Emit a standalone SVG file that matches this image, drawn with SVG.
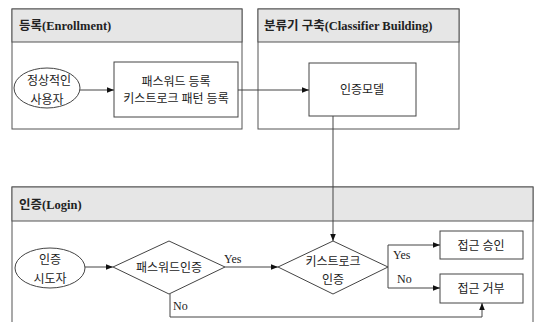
<svg xmlns="http://www.w3.org/2000/svg" width="536" height="322" viewBox="0 0 536 322">
<defs>
<style>
.panel{fill:#fff;stroke:#555;stroke-width:1}
.hdr{fill:#e6e6e6;stroke:#555;stroke-width:1}
.node{fill:#fff;stroke:#444;stroke-width:1}
.ln{fill:none;stroke:#444;stroke-width:1}
text{font-family:"Liberation Serif","Noto Sans CJK KR",serif;font-size:12px;fill:#222}
.h{font-weight:bold;font-size:12.5px}
.c{text-anchor:middle}
</style>
<marker id="ah" viewBox="0 0 10 10" refX="10" refY="5" markerWidth="7" markerHeight="7" orient="auto">
<path d="M0,1 L10,5 L0,9 z" fill="#111"/>
</marker>
</defs>
<g id="panel-enrollment">
<rect class="panel" x="12" y="9" width="230" height="120"/>
<rect class="hdr" x="12" y="9" width="230" height="33"/>
<text class="h" x="19" y="30">등록(Enrollment)</text>
</g>
<g id="panel-classifier">
<rect class="panel" x="258" y="9" width="201" height="120"/>
<rect class="hdr" x="258" y="9" width="201" height="33"/>
<text class="h" x="264" y="30">분류기 구축(Classifier Building)</text>
</g>
<g id="panel-login">
<rect class="panel" x="12" y="187" width="521" height="145"/>
<rect class="hdr" x="12" y="187" width="521" height="34"/>
<text class="h" x="19" y="209">인증(Login)</text>
</g>
<g id="user">
<ellipse class="node" cx="47" cy="88" rx="33" ry="20"/>
<text class="c" x="49" y="85">정상적인</text>
<text class="c" x="47" y="104">사용자</text>
</g>
<g id="register">
<rect class="node" x="114" y="62" width="124" height="55"/>
<text class="c" x="176" y="86">패스워드 등록</text>
<text class="c" x="176" y="103">키스트로크 패턴 등록</text>
</g>
<g id="model">
<rect class="node" x="309" y="63" width="107" height="53"/>
<text class="c" x="362" y="94">인증모델</text>
</g>
<g id="attempter">
<ellipse class="node" cx="50" cy="268" rx="35" ry="20"/>
<text class="c" x="50" y="264">인증</text>
<text class="c" x="50" y="283">시도자</text>
</g>
<g id="pw-auth">
<polygon class="node" points="113,267 169,241 225,267 169,294"/>
<text class="c" x="169" y="272">패스워드인증</text>
</g>
<g id="ks-auth">
<polygon class="node" points="278,267 333,241 388,267 333,294"/>
<text class="c" x="333" y="266">키스트로크</text>
<text class="c" x="333" y="284">인증</text>
</g>
<g id="grant">
<rect class="node" x="440" y="231" width="83" height="28"/>
<text class="c" x="481" y="250">접근 승인</text>
</g>
<g id="deny">
<rect class="node" x="440" y="274" width="83" height="29"/>
<text class="c" x="481" y="293">접근 거부</text>
</g>
<g id="connectors">
<line class="ln" x1="80" y1="90" x2="114" y2="90" marker-end="url(#ah)"/>
<line class="ln" x1="238" y1="90" x2="309" y2="90" marker-end="url(#ah)"/>
<line class="ln" x1="333" y1="116" x2="333" y2="241" marker-end="url(#ah)"/>
<line class="ln" x1="85" y1="267" x2="113" y2="267" marker-end="url(#ah)"/>
<line class="ln" x1="225" y1="267" x2="278" y2="267" marker-end="url(#ah)"/>
<polyline class="ln" points="388,267 388,245 440,245" marker-end="url(#ah)"/>
<polyline class="ln" points="388,267 388,288 440,288" marker-end="url(#ah)"/>
<polyline class="ln" points="170,294 170,317 482,317 482,303" marker-end="url(#ah)"/>
<text x="224" y="263">Yes</text>
<text x="173" y="310">No</text>
<text x="393" y="259">Yes</text>
<text x="397" y="283">No</text>
</g>
</svg>
